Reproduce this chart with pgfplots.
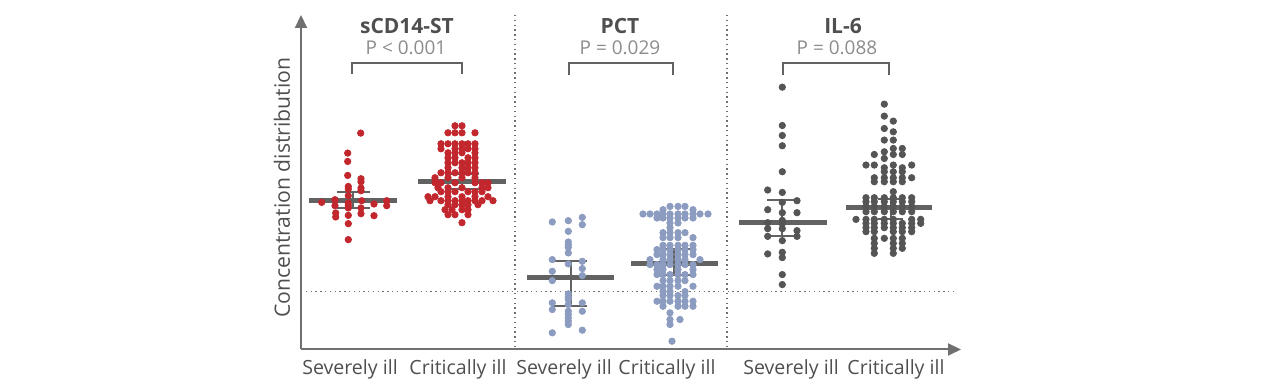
\documentclass[border=0pt]{standalone}
\usepackage{pgfplots}
\pgfplotsset{compat=1.18}
\usetikzlibrary{arrows.meta}
\usepackage{fontspec}
\setmainfont{Open Sans}
\definecolor{axgray}{HTML}{707070}
\definecolor{ttlgray}{HTML}{4F4F4F}
\definecolor{pgray}{HTML}{8C8C8C}
\definecolor{medgray}{HTML}{626262}
\definecolor{dotred}{HTML}{C1272D}
\definecolor{dotblue}{HTML}{8C9CC0}
\definecolor{dotgray}{HTML}{555555}
\newcommand{\seg}[5][]{\addplot[errl,#1] coordinates {(#2,#3)(#4,#5)};}
\begin{document}
\begin{tikzpicture}
\begin{axis}[
  scale only axis,
  width=330.5pt, height=167.5pt,
  xmin=301, xmax=961, ymin=42, ymax=377,
  y filter/.expression={392-y},
  clip=false,
  axis lines=left,
  axis line style={draw=axgray, line width=1pt, -{Triangle[width=6pt,length=6.5pt]}},
  ytick=\empty,
  xtick={350,458,564,667,791,896},
  xticklabels={Severely ill,Critically ill,Severely ill,Critically ill,Severely ill,Critically ill},
  major tick length=0pt,
  xticklabel style={font=\fontsize{9.8}{12}\selectfont, text=ttlgray, yshift=-1.5pt},
  every axis y label/.style={at={(axis cs:282,204)}, rotate=90, anchor=center, font=\fontsize{10.6}{12}\selectfont, text=ttlgray},
  ylabel={Concentration distribution},
  errl/.style={draw=medgray, line width=1pt, no marks},
  medl/.style={draw=medgray, line width=2.6pt, no marks},
  dotl/.style={draw=axgray, line width=0.7pt, dash pattern=on 0.7pt off 1.7pt, no marks},
  dots/.style={only marks, mark=*, mark size=1.6pt},
]
\path (axis cs:0,0) rectangle (axis cs:1280,392);
% dotted separators
\addplot[dotl] coordinates {(515,15)(515,350)};
\addplot[dotl] coordinates {(727,15)(727,350)};
\addplot[dotl] coordinates {(301,292)(953,292)};

% sCD14-ST severely ill
\addplot[dots, color=dotred] coordinates {
(360.7,133.3)(347.7,153.3)(347.7,161.7)(347.7,175.7)(361,179)(361,182)
(348.3,186.7)(348.3,189.3)(361,188.3)(361,191)(348.3,196)(361.7,201)
(335,200)(321.7,202.7)(335,206)(348.3,203.3)(348.3,206)(348.3,208.3)
(361,208.3)(374,204.3)(386.7,201)(386.7,206)(335.7,213.3)(335.7,217.3)
(348.3,215.7)(361,214)(374,216)(348.3,224)(348.3,240)
};
% sCD14-ST critically ill
\addplot[dots, color=dotred] coordinates {
(455,126)(462,126)
(448,133)(455,133)(462,133)(475,133)
(441,144)(448,144)(455,144)(462,144)(468,144)(475,144)
(441,149)(455,149)(462,149)(468,149)(475,149)
(448,153)(455,153)(462,153)(475,153)
(448,158)(455,158)(468,158)(475,158)
(448,163)(455,163)(462,163)(468,163)(475,163)
(448,168)(462,168)(468,168)(475,168)
(441,173)(448,173)(455,173)(462,173)(468,173)(475,173)
(435,178)(448,178)(462,178)(475,178)
(435,183)(441,183)(455,183)(475,183)(482,183)(488,183)
(438,188)(448,188)(462,188)(482,188)(488,188)
(441,192)(448,192)(455,192)(468,192)(475,192)(482,192)
(428,197)(435,197)(448,197)(462,197)(475,197)(488,197)
(430,201)(441,201)(448,201)(455,201)(462,201)(468,201)(475,201)(482,201)(493,201)
(448,205)(455,205)(462,205)(468,205)(478,205)
(445,210)(452,210)(462,210)(468,210)
(448,215)(455,215)(468,215)
(462,223)
};
% PCT severely ill
\addplot[dots, color=dotblue] coordinates {
(552.3,222.3)(568.3,221)(582.3,217.7)(582.3,225)(568.3,231.7)
(568.3,242.3)(568.3,245)(568.3,247.7)(568.3,253.3)(552.3,260)
(568.3,264.3)(582.3,261.7)(582.3,269)(552.3,271.7)(582.3,276)
(552.3,281)(568.3,294.3)(568.3,297.7)(568.3,300)(552.3,303.3)
(582.3,303.3)(568.3,305)(552.3,310)(568.3,311.7)(568.3,315)
(582.3,311.7)(568.3,318.3)(568.3,321.7)(568.3,325)(552.3,333.3)(582.3,330.7)
};
% PCT critically ill
\addplot[dots, color=dotblue] coordinates {
(670,206.7)(678,206.7)(685,206.7)
(663,210)(693,210)
(643,214.3)(650,214.3)(657,214.3)(663,214.3)(670,214.3)(678,214.3)(685,214.3)(693,214.3)(700,214.3)(708,214.3)
(657,218.3)(663,218.3)(670,218.3)(678,218.3)(685,218.3)(693,218.3)
(670,223.3)(678,223.3)
(670,228)
(663,233)(670,233)(678,233)(685,233)
(663,238)(670,238)(678,238)(693,238)
(663,245.7)(670,245.7)(678,245.7)(685,245.7)(693,245.7)
(657,250)(663,250)(670,250)(678,250)(685,250)(693,250)
(657,255)(663,255)(670,255)(678,255)(685,255)(693,255)
(650,260)(663,260)(670,260)(678,260)(685,260)(700,260)
(650,265)(657,265)(663,265)(670,265)(678,265)(685,265)(693,265)
(657,270)(663,270)(678,270)(693,270)
(657,275)(663,275)(670,275)(678,275)(685,275)(693,275)
(663,281)(670,281)(678,281)(685,281)
(657,286.7)(663,286.7)(670,286.7)(678,286.7)(693,286.7)
(663,292)(670,292)(685,292)
(663,296)(670,296)(678,296)(685,296)
(657,301.7)(663,301.7)(670,301.7)(678,301.7)(685,301.7)(693,301.7)
(663,306.7)(678,306.7)(685,306.7)(693,306.7)
(670,313.3)
(670,320)(680,320)
(670,325)
(672,341.7)
};
% IL-6 severely ill
\addplot[dots, color=dotgray] coordinates {
(782.3,87.3)(782.3,125.7)(782.3,135.7)(782.3,146)(782.3,172)
(767.7,190.3)(782.3,192.7)(782.3,202.7)(797,201)(767.7,210)
(782.3,213)(797,213)(782.3,220.7)(782.3,224)(767.7,223)
(767.7,229)(782.3,229)(797,231)(767.7,236.7)(797,236.7)
(782.3,241)(767.7,254.3)(782.3,252.7)(782.3,258)(782.3,275)(782.3,285)
};
% IL-6 critically ill
\addplot[dots, color=dotgray] coordinates {
(884.3,104.3)(884.3,116.3)(893.3,121.3)(884.3,128.7)(893.3,132)
(884.3,140.3)(893.3,140.3)
(893.3,148.7)(902.3,148.7)
(884.3,152)
(874.3,154.7)(893.3,154.7)(902.3,154.7)
(884.3,158.7)
(866,165.3)(874.3,165.3)(893.3,165.3)(911.7,165.3)
(884.3,168)(902.3,168)
(884.3,172)(893.3,172)(902.3,172)
(874.3,178)(884.3,178)(893.3,178)(902.3,178)(911.7,178)
(874.3,182)(884.3,182)(893.3,182)(902.3,182)
(893.3,192)
(866,198)(874.3,198)(884.3,198)(893.3,198)(902.3,198)(911.7,198)
(866,202)(874.3,202)(884.3,202)(893.3,202)(902.3,202)(911.7,202)
(866,207)(874.3,207)(884.3,207)(893.3,207)(902.3,207)(911.7,207)
(866,212)(874.3,212)(884.3,212)(893.3,212)(902.3,212)(911.7,212)
(856,219.7)(866,219.7)(874.3,219.7)(884.3,219.7)(893.3,219.7)(911.7,219.7)(920.7,219.7)
(866,223.7)(874.3,223.7)(884.3,223.7)(893.3,223.7)(902.3,223.7)(911.7,223.7)(920.7,223.7)
(866,228)(874.3,228)(884.3,228)(893.3,228)(902.3,228)(911.7,228)
(866,232)(874.3,232)(893.3,232)(902.3,232)(911.7,232)
(874.3,238.7)(884.3,238.7)(893.3,238.7)(902.3,238.7)
(874.3,243.7)(893.3,243.7)(902.3,243.7)
(874.3,248.7)(893.3,248.7)(902.3,248.7)
(874.3,253.7)(893.3,253.7)
};

% medians and error bars
\seg{353}{192}{353}{208} \seg{337}{192}{370}{192} \seg{337}{208}{370}{208}
\seg[medl]{309}{201}{397}{201}
\seg{462}{174}{462}{189} \seg{445}{174}{479}{174} \seg{445}{189}{479}{189}
\seg[medl]{418}{182}{506}{182}
\seg{571}{261}{571}{306} \seg{553}{261}{587}{261} \seg{553}{306}{587}{306}
\seg[medl]{527}{278}{614}{278}
\seg{674}{249}{674}{275} \seg{656}{249}{692}{249} \seg{656}{275}{692}{275}
\seg[medl]{631}{264}{718}{264}
\seg{782}{200}{782}{236} \seg{767}{200}{797}{200} \seg{767}{236}{797}{236}
\seg[medl]{739}{223}{827}{223}
\seg{891}{199}{891}{219} \seg{878}{199}{903}{199} \seg{878}{219}{903}{219}
\seg[medl]{846}{208}{932}{208}

% brackets
\addplot[errl] coordinates {(352,74)(352,63)(462,63)(462,74)};
\addplot[errl] coordinates {(569,75)(569,63)(673,63)(673,75)};
\addplot[errl] coordinates {(783,75)(783,63)(889,63)(889,75)};

% titles
\node[font=\fontsize{10.5}{12}\selectfont\bfseries, text=ttlgray] at (axis cs:407,366) {sCD14-ST};
\node[font=\fontsize{10.5}{12}\selectfont\bfseries, text=ttlgray] at (axis cs:620,366) {PCT};
\node[font=\fontsize{10.5}{12}\selectfont\bfseries, text=ttlgray] at (axis cs:843,366) {IL-6};
\node[font=\fontsize{9.5}{12}\selectfont, text=pgray] at (axis cs:406,344) {P < 0.001};
\node[font=\fontsize{9.5}{12}\selectfont, text=pgray] at (axis cs:620,344) {P = 0.029};
\node[font=\fontsize{9.5}{12}\selectfont, text=pgray] at (axis cs:837,344) {P = 0.088};
\end{axis}
\end{tikzpicture}
\end{document}
